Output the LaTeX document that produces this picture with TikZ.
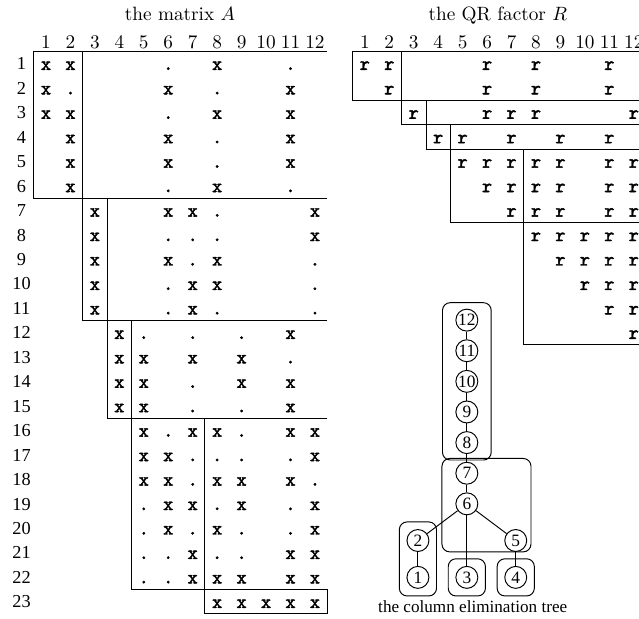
\documentclass[tikz,border=0pt]{standalone}
\usepackage{fontspec}
\newfontfamily\timesfont{Liberation Serif}
\newfontfamily\entryfont[FakeBold=2.2]{lmmono10-regular.otf}
\usetikzlibrary{calc}
\usetikzlibrary{fit}
\usetikzlibrary{matrix}
\usetikzlibrary{positioning}

\tikzset{
  sparse/.style={matrix of nodes,ampersand replacement=\&,inner sep=0pt,
    column sep=0pt,row sep=0pt,nodes in empty cells,
    nodes={inner sep=0pt,outer sep=0pt,minimum width=12.7pt,minimum height=12.7pt,
      text height=6.5pt,text depth=0pt,font=\entryfont},
    row 1/.style={nodes={minimum height=9.4pt,font=\normalfont}}},
  colnode/.style={draw,circle,inner sep=0pt,minimum size=11.4pt,font=\fontsize{9}{10}\timesfont},
  supernode/.style={draw,rectangle,rounded corners=4pt,inner sep=3.7pt}
}

\begin{document}
\begin{tikzpicture}[x=12.7pt,y=12.7pt,line width=0.5pt]

  \useasboundingbox (-0.86,1.58) rectangle (25.27,-23.70);
  \clip (-0.86,1.58) rectangle (25.27,-23.70);

  \node [anchor=base] (titleA) at (6.5,0.73) {the matrix $A$};
  \node [anchor=base] (titleR) at (19.5,0.73) {the QR factor $R$};

  \matrix (A) [sparse,anchor=north west,
    column 1/.style={nodes={font=\fontsize{9.5}{11}\timesfont}}] at (-0.5,0.24) {
       \& 1 \& 2 \& 3 \& 4 \& 5 \& 6 \& 7 \& 8 \& 9 \& 10 \& 11 \& 12 \\
     1 \& x \& x \&   \&   \&   \& . \&   \& x \&   \&   \& . \&   \\
     2 \& x \& . \&   \&   \&   \& x \&   \& . \&   \&   \& x \&   \\
     3 \& x \& x \&   \&   \&   \& . \&   \& x \&   \&   \& x \&   \\
     4 \&   \& x \&   \&   \&   \& x \&   \& . \&   \&   \& x \&   \\
     5 \&   \& x \&   \&   \&   \& x \&   \& . \&   \&   \& x \&   \\
     6 \&   \& x \&   \&   \&   \& . \&   \& x \&   \&   \& . \&   \\
     7 \&   \&   \& x \&   \&   \& x \& x \& . \&   \&   \&   \& x \\
     8 \&   \&   \& x \&   \&   \& . \& . \& . \&   \&   \&   \& x \\
     9 \&   \&   \& x \&   \&   \& x \& . \& x \&   \&   \&   \& . \\
    10 \&   \&   \& x \&   \&   \& . \& x \& x \&   \&   \&   \& . \\
    11 \&   \&   \& x \&   \&   \& . \& x \& . \&   \&   \&   \& . \\
    12 \&   \&   \&   \& x \& . \&   \& . \&   \& . \&   \& x \&   \\
    13 \&   \&   \&   \& x \& x \&   \& x \&   \& x \&   \& . \&   \\
    14 \&   \&   \&   \& x \& x \&   \& . \&   \& x \&   \& x \&   \\
    15 \&   \&   \&   \& x \& x \&   \& . \&   \& . \&   \& x \&   \\
    16 \&   \&   \&   \&   \& x \& . \& x \& x \& . \&   \& x \& x \\
    17 \&   \&   \&   \&   \& x \& x \& . \& . \& . \&   \& . \& x \\
    18 \&   \&   \&   \&   \& x \& x \& . \& x \& x \&   \& x \& . \\
    19 \&   \&   \&   \&   \& . \& x \& x \& . \& x \&   \& . \& x \\
    20 \&   \&   \&   \&   \& . \& x \& . \& x \& . \&   \& . \& x \\
    21 \&   \&   \&   \&   \& . \& . \& x \& . \& . \&   \& x \& x \\
    22 \&   \&   \&   \&   \& . \& . \& x \& x \& x \&   \& x \& x \\
    23 \&   \&   \&   \&   \&   \&   \&   \& x \& x \& x \& x \& x \\
  };

  % supernode blocks of A
  \foreach \ra/\rb/\ca/\cb in {2/7/2/3,8/12/4/4,13/16/5/5,17/23/6/8,24/24/9/13}
    \draw (A-\ra-13.north east) -| (A-\rb-\ca.south west) -- (A-\rb-13.south east)
          (A-\ra-\cb.north east) -- (A-\rb-\cb.south east);

  \matrix (R) [sparse,anchor=north west] at ([xshift=12.7pt]A.north east) {
    1 \& 2 \& 3 \& 4 \& 5 \& 6 \& 7 \& 8 \& 9 \& 10 \& 11 \& 12 \\
    r \& r \&   \&   \&   \& r \&   \& r \&   \&   \& r \&   \\
      \& r \&   \&   \&   \& r \&   \& r \&   \&   \& r \&   \\
      \&   \& r \&   \&   \& r \& r \& r \&   \&   \&   \& r \\
      \&   \&   \& r \& r \&   \& r \&   \& r \&   \& r \&   \\
      \&   \&   \&   \& r \& r \& r \& r \& r \&   \& r \& r \\
      \&   \&   \&   \&   \& r \& r \& r \& r \&   \& r \& r \\
      \&   \&   \&   \&   \&   \& r \& r \& r \&   \& r \& r \\
      \&   \&   \&   \&   \&   \&   \& r \& r \& r \& r \& r \\
      \&   \&   \&   \&   \&   \&   \&   \& r \& r \& r \& r \\
      \&   \&   \&   \&   \&   \&   \&   \&   \& r \& r \& r \\
      \&   \&   \&   \&   \&   \&   \&   \&   \&   \& r \& r \\
      \&   \&   \&   \&   \&   \&   \&   \&   \&   \&   \& r \\
  };

  % supernode blocks of R
  \foreach \ra/\rb/\ca/\cb in {2/3/1/2,4/4/3/3,5/5/4/4,6/8/5/7,9/13/8/12}
    \draw (R-\ra-12.north east) -| (R-\rb-\ca.south west) -- (R-\rb-12.south east)
          (R-\ra-\cb.north east) -- (R-\rb-\cb.south east);

  % column elimination tree
  \node [colnode] (n12) at (18.23,-11.51) {12};
  \node [colnode,below=4pt of n12] (n11) {11};
  \node [colnode,below=4pt of n11] (n10) {10};
  \node [colnode,below=4pt of n10] (n9) {9};
  \node [colnode,below=4pt of n9] (n8) {8};
  \node [colnode,below=4pt of n8] (n7) {7};
  \node [colnode,below=4pt of n7] (n6) {6};
  \node [colnode] (n2) at ($(n6)+(-2,-1.5)$) {2};
  \node [colnode] (n5) at ($(n6)+(2,-1.5)$) {5};
  \node [colnode,below=7.25pt of n2] (n1) {1};
  \node [colnode,below=7.25pt of n5] (n4) {4};
  \node [colnode] (n3) at (n6 |- n1) {3};

  \path [draw]
    (n12) edge (n11)
    (n11) edge (n10)
    (n10) edge (n9)
    (n9) edge (n8)
    (n8) edge (n7)
    (n7) edge (n6)
    (n6) edge (n2)
    (n6) edge (n3)
    (n6) edge (n5)
    (n2) edge (n1)
    (n5) edge (n4);

  \node [supernode,fit=(n12) (n8),inner xsep=6.7pt,inner ysep=3.1pt] (S8) {};
  \node [supernode,fit={($(n7.north -| S8.west)+(0.29,0)$) (n5.south east)},
    inner xsep=3.7pt,inner ysep=1.7pt] (S5) {};
  \node [supernode,fit=(n2) (n1)] (S1) {};
  \node [supernode,fit=(n3)] (S3) {};
  \node [supernode,fit=(n4)] (S4) {};

  \node [font=\fontsize{8.9}{10}\timesfont] (treelab) at (18.47,-23.24) {the column elimination tree};

\end{tikzpicture}
\end{document}
